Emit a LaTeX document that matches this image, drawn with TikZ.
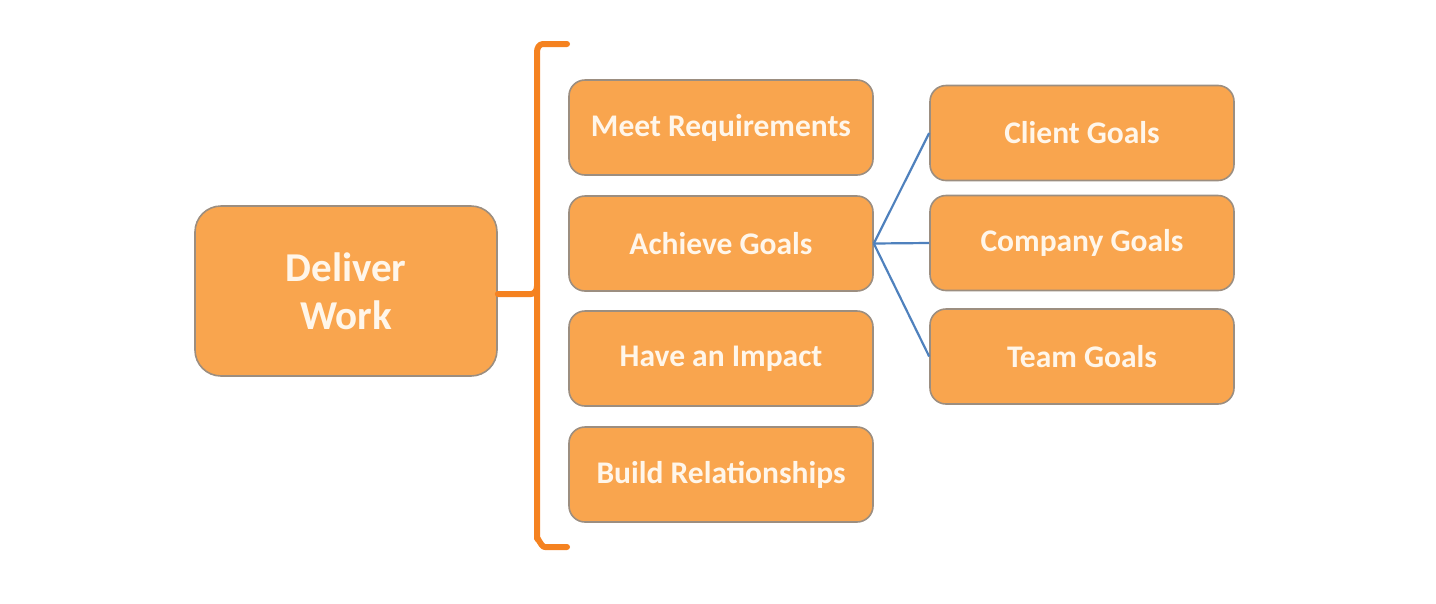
\documentclass[tikz,border=0pt]{standalone}
\usepackage{fontspec}
\setmainfont{Carlito}
\definecolor{boxfill}{HTML}{F9A54E}
\definecolor{boxline}{HTML}{9C8E80}
\definecolor{brk}{HTML}{F58220}
\definecolor{blu}{HTML}{4F81BD}
\definecolor{txt}{HTML}{FFF6EA}
\begin{document}
\begin{tikzpicture}[x=1pt,y=-1pt,
  obox/.style={draw=boxline,line width=1.6pt,fill=boxfill,rounded corners=16pt,
    minimum width=304pt,minimum height=95pt,inner sep=0pt,
    text=txt,font=\bfseries\fontsize{31.5}{36}\selectfont,align=center},
  bigbox/.style={obox,minimum width=302pt,minimum height=170pt,rounded corners=26pt,
    font=\bfseries\fontsize{41}{48}\selectfont},
  brace/.style={draw=brk,line width=6pt,line cap=round,line join=round},
  link/.style={draw=blu,line width=2.2pt}]
\useasboundingbox (0,0) rectangle (1436,603);
\node[bigbox] (dw) at (346,291) {Deliver\\Work};
\node[obox] (mr) at (721,127.5) {Meet Requirements};
\node[obox] (ag) at (721,243.5) {Achieve Goals};
\node[obox] (hi) at (721,358.5) {Have an Impact};
\node[obox] (br) at (721,474.5) {Build Relationships};
\node[obox] (cg) at (1082,133) {Client Goals};
\node[obox] (cog) at (1082,243) {Company Goals};
\node[obox] (tg) at (1082,356.5) {Team Goals};
\coordinate (bt) at (567,44);
\coordinate (bb) at (567,547);
\coordinate (bm) at (537,294);
\draw[brace] (bt) -- (543,44) to[out=180,in=90] (537,52) -- (537,286) to[out=-90,in=0] ([xshift=-6pt]bm) -- (dw.east |- bm);
\draw[brace] (537,286) -- (537,539) to[out=90,in=180] (545,547) -- (bb);
\draw[link] (ag.east) -- (cg.west);
\draw[link] (ag.east) -- (cog.west);
\draw[link] (ag.east) -- (tg.west);
\end{tikzpicture}
\end{document}
